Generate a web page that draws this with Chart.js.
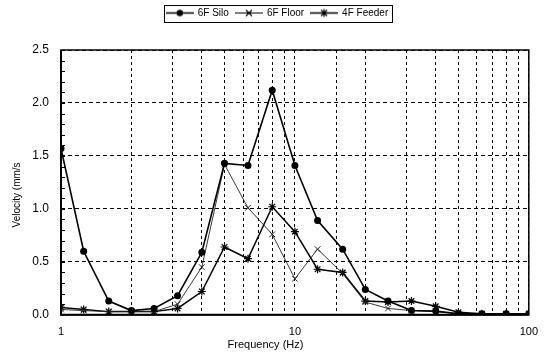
<!DOCTYPE html>
<html>
<head>
<meta charset="utf-8">
<script src="https://cdn.jsdelivr.net/npm/chart.js@4.4.1/dist/chart.umd.min.js"></script>
<style>
  html, body { margin: 0; padding: 0; background: #fff; }
  #wrap { width: 549px; height: 361px; }
</style>
</head>
<body>
<div id="wrap"><canvas id="velChart" width="549" height="361"></canvas></div>
<script>
// 1/3 octave band centre frequencies (Hz)
const freqs = [1, 1.25, 1.6, 2, 2.5, 3.15, 4, 5, 6.3, 8, 10, 12.5, 16, 20, 25, 31.5, 40, 50, 63, 80, 100];

// velocities (mm/s)
const silo6F   = [1.57, 0.60, 0.13, 0.04, 0.06, 0.18, 0.59, 1.43, 1.41, 2.12, 1.41, 0.89, 0.62, 0.24, 0.13, 0.04, 0.035, 0.01, 0.01, 0.01, 0.01];
const floor6F  = [0.05, 0.04, 0.03, 0.03, 0.03, 0.10, 0.45, 1.42, 1.01, 0.76, 0.34, 0.62, 0.39, 0.12, 0.06, 0.04, 0.03, 0.01, 0.01, 0.01, 0.01];
const feeder4F = [0.07, 0.05, 0.03, 0.03, 0.03, 0.06, 0.22, 0.64, 0.53, 1.02, 0.785, 0.43, 0.40, 0.13, 0.12, 0.13, 0.08, 0.025, 0.01, 0.01, 0.01];

const seriesNames = ['6F Silo', '6F Floor', '4F Feeder'];
const yTicks = [0, 0.5, 1.0, 1.5, 2.0, 2.5];
const xLabelTicks = [1, 10, 100];

const FONT = "'Liberation Sans', Arial, sans-serif";

function toPoints(vals) {
    return freqs.map((f, i) => ({ x: f, y: vals[i] }));
}

// little line+marker swatch for the legend
function swatch(kind) {
    const c = document.createElement('canvas');
    c.width = 28; c.height = 11;
    const g = c.getContext('2d');
    g.strokeStyle = '#000';
    g.fillStyle = '#000';
    g.lineWidth = kind === 'floor' ? 1 : 1.5;
    g.beginPath(); g.moveTo(0, 5.5); g.lineTo(28, 5.5); g.stroke();
    g.lineWidth = 1.2;
    if (kind === 'silo') {
        g.beginPath(); g.arc(14, 5.5, 3.2, 0, Math.PI * 2); g.fill();
    } else if (kind === 'floor') {
        g.beginPath();
        g.moveTo(11, 2.5); g.lineTo(17, 8.5);
        g.moveTo(17, 2.5); g.lineTo(11, 8.5);
        g.stroke();
    } else {
        g.beginPath();
        g.moveTo(11, 2.5); g.lineTo(17, 8.5);
        g.moveTo(17, 2.5); g.lineTo(11, 8.5);
        g.moveTo(14, 1.5); g.lineTo(14, 9.5);
        g.stroke();
    }
    return c;
}

const swatches = [swatch('silo'), swatch('floor'), swatch('feeder')];

// legend sits a bit right of the plot centre and leaves a gap above the plot
const legendTweak = {
    id: 'legendTweak',
    beforeLayout(chart) {
        const lg = chart.legend;
        if (lg && !lg._patched) {
            const fit = lg.fit;
            lg.fit = function() {
                fit.call(this);
                this.height += 22;
            };
            lg._patched = true;
        }
    },
    afterLayout(chart) {
        const lg = chart.legend;
        if (lg) {
            lg.left += 12;
            lg.right += 12;
            lg.adjustHitBoxes();
        }
    }
};

// frame around the plot, inward minor ticks on the y axis, box round the legend
const framePlugin = {
    id: 'framePlugin',
    afterDraw(chart) {
        const { ctx, chartArea: a, scales } = chart;
        ctx.save();
        ctx.strokeStyle = '#000';
        ctx.setLineDash([]);
        // minor ticks every 0.1
        ctx.lineWidth = 1;
        for (let v = 0.1; v < 2.5; v += 0.1) {
            const y = Math.round(scales.y.getPixelForValue(v)) + 0.5;
            ctx.beginPath(); ctx.moveTo(a.left, y); ctx.lineTo(a.left + 4, y); ctx.stroke();
        }
        ctx.lineWidth = 1.5;
        ctx.strokeRect(a.left, a.top, a.right - a.left, a.bottom - a.top);
        ctx.lineWidth = 2;
        ctx.beginPath();
        ctx.moveTo(a.left, a.top); ctx.lineTo(a.left, a.bottom); ctx.lineTo(a.right, a.bottom);
        ctx.stroke();
        // legend box
        const lg = chart.legend;
        if (lg && lg.legendHitBoxes && lg.legendHitBoxes.length) {
            const boxes = lg.legendHitBoxes;
            const x0 = boxes[0].left - 3;
            const last = boxes[boxes.length - 1];
            const x1 = last.left + last.width + 4;
            ctx.lineWidth = 1;
            ctx.strokeRect(Math.round(x0) + 0.5, 5.5, Math.round(x1 - x0), 17);
        }
        ctx.restore();
    }
};

const ctx = document.getElementById('velChart').getContext('2d');
const velChart = new Chart(ctx, {
    type: 'line',
    data: {
        datasets: [
            {
                label: seriesNames[0],
                data: toPoints(silo6F),
                borderColor: '#000',
                backgroundColor: '#000',
                borderWidth: 1.6,
                pointStyle: 'circle',
                pointRadius: 3.5,
                pointBorderWidth: 0,
                tension: 0
            },
            {
                label: seriesNames[1],
                data: toPoints(floor6F),
                borderColor: '#222',
                backgroundColor: '#222',
                borderWidth: 0.9,
                pointStyle: 'crossRot',
                pointRadius: 4,
                pointBorderWidth: 1,
                tension: 0
            },
            {
                label: seriesNames[2],
                data: toPoints(feeder4F),
                borderColor: '#000',
                backgroundColor: '#000',
                borderWidth: 1.5,
                pointStyle: 'star',
                pointRadius: 4,
                pointBorderWidth: 1.2,
                tension: 0
            }
        ]
    },
    options: {
        responsive: false,
        animation: false,
        layout: { padding: { left: 0, right: 18, top: 1, bottom: 7 } },
        plugins: {
            legend: {
                position: 'top',
                labels: {
                    usePointStyle: true,
                    pointStyleWidth: 26,
                    boxHeight: 10,
                    padding: 7,
                    color: '#000',
                    font: { family: FONT, size: 10 },
                    generateLabels(chart) {
                        return chart.data.datasets.map((ds, i) => ({
                            text: ds.label,
                            pointStyle: swatches[i],
                            fillStyle: '#000',
                            strokeStyle: '#000',
                            lineWidth: 0,
                            fontColor: '#000',
                            hidden: false,
                            datasetIndex: i
                        }));
                    }
                }
            },
            title: {
                display: true,
                position: 'bottom',
                text: 'Frequency (Hz)',
                color: '#000',
                font: { family: FONT, size: 11, weight: 'normal' },
                padding: { top: 2, bottom: 2 }
            },
            tooltip: { enabled: false }
        },
        scales: {
            x: {
                type: 'logarithmic',
                min: 1,
                max: 100,
                afterFit(scale) { scale.height = 22; },
                grid: { color: '#000', lineWidth: 1, drawTicks: false },
                border: { display: false, dash: [3, 3] },
                ticks: {
                    color: '#000',
                    font: { family: FONT, size: 11 },
                    padding: 11,
                    maxRotation: 0,
                    autoSkip: false,
                    callback: function(value) {
                        return xLabelTicks.includes(value) ? String(value) : '';
                    }
                }
            },
            y: {
                min: 0,
                max: 2.5,
                afterBuildTicks(scale) {
                    scale.ticks = yTicks.map(v => ({ value: v }));
                },
                afterFit(scale) { scale.width = 61; },
                grid: { color: '#000', lineWidth: 1, drawTicks: false },
                border: { display: false, dash: [4, 3] },
                title: {
                    display: true,
                    text: 'Velocity (mm/s         ',
                    color: '#000',
                    font: { family: FONT, size: 10 },
                    padding: { top: 11, bottom: 0 }
                },
                ticks: {
                    color: '#000',
                    font: { family: FONT, size: 12 },
                    padding: 12,
                    callback: v => Number(v).toFixed(1)
                }
            }
        }
    },
    plugins: [legendTweak, framePlugin]
});
</script>
</body>
</html>
